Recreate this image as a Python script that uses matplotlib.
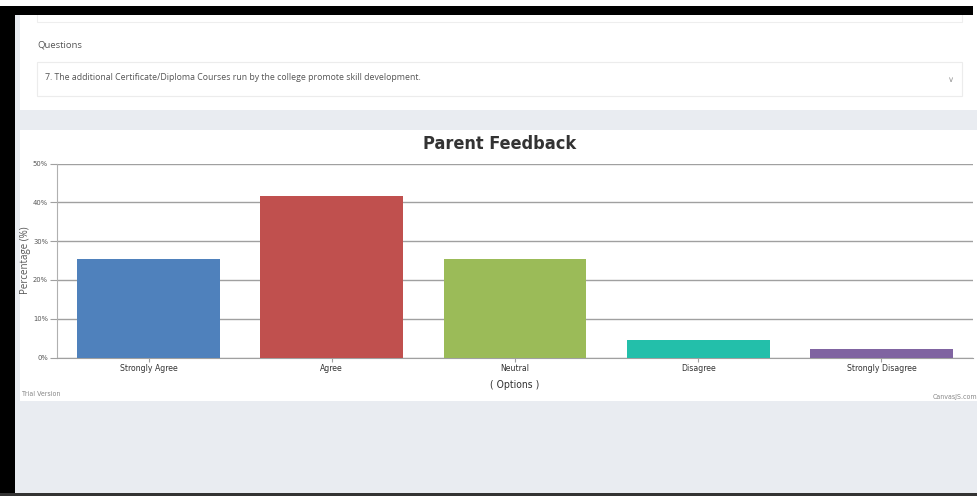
import matplotlib
matplotlib.use("Agg")
import matplotlib.pyplot as plt
from matplotlib.patches import Rectangle
from matplotlib.ticker import FuncFormatter

categories = ["Strongly Agree", "Agree", "Neutral", "Disagree", "Strongly Disagree"]
values = [25.5, 41.7, 25.5, 4.4, 2.2]
colors = ["#4F81BC", "#C0504E", "#9BBB58", "#23BFAA", "#8064A1"]
yticks = [0, 10, 20, 30, 40, 50]
title = "Parent Feedback"
question_label = "Questions"
question_text = "7. The additional Certificate/Diploma Courses run by the college promote skill development."

W, H = 978, 496
fig = plt.figure(figsize=(W / 100, H / 100), dpi=100)
fig.patch.set_facecolor("white")

NARROW = ["DejaVu Sans"]
SANS = ["Open Sans", "DejaVu Sans"]
COND = "condensed"

bg = fig.add_axes([0, 0, 1, 1])
bg.set_xlim(0, W)
bg.set_ylim(H, 0)
bg.axis("off")

def rect(x0, y0, x1, y1, fc, ec="none", lw=0, z=0):
    bg.add_patch(Rectangle((x0, y0), x1 - x0, y1 - y0, facecolor=fc, edgecolor=ec, linewidth=lw, zorder=z))

rect(15, 15, W, 493, "#E9ECF1")
rect(20, 15, W, 110, "white", z=1)
rect(37, 10, 962, 22, "white", ec="#EEEEEE", lw=0.8, z=2)
rect(37, 62, 962, 96, "white", ec="#ECECEC", lw=0.8, z=2)
rect(20, 130, W, 401, "white", z=1)
rect(0, 6, 973, 15, "black", z=5)
rect(0, 6, 15, 493, "black", z=5)
rect(0, 493, W, H, "#333333", z=5)

bg.text(37, 45, question_label, fontsize=6.8, color="#555555", family=SANS, va="center", ha="left", zorder=3)
bg.text(45, 78, question_text, fontsize=6.3, color="#555555", family=SANS, va="center", ha="left", zorder=3)
bg.text(951, 80, "\u2228", fontsize=6, color="#999999", family=SANS, va="center", ha="center", zorder=3)
bg.text(500, 144, title, fontsize=13, fontweight="heavy", fontstretch=COND, color="#333333",
        family=NARROW, va="center", ha="center", zorder=3)
bg.text(22, 394, "Trial Version", fontsize=5, fontstretch=COND, color="#888888", family=NARROW,
        va="center", ha="left", zorder=3)
bg.text(977, 397, "CanvasJS.com", fontsize=5, fontstretch=COND, color="#888888", family=NARROW,
        va="center", ha="right", zorder=3)

left, right, top, bottom = 57, 973, 163.5, 357.5
ax = fig.add_axes([left / W, 1 - bottom / H, (right - left) / W, (bottom - top) / H])
ax.set_zorder(4)
ax.patch.set_alpha(0)
x = list(range(len(categories)))
ax.bar(x, values, width=0.78, color=colors, zorder=3)
ax.set_xlim(-0.5, len(categories) - 0.5)
ax.set_ylim(0, 50)
ax.set_yticks(yticks)
ax.yaxis.set_major_formatter(FuncFormatter(lambda v, p: f"{int(v)}%"))
ax.set_xticks(x)
ax.set_xticklabels(categories)
ax.grid(axis="y", color="#A0A0A0", linewidth=1, zorder=0)
for s in ["top", "right"]:
    ax.spines[s].set_visible(False)
ax.spines["left"].set_color("#B0B0B0")
ax.spines["bottom"].set_color("#A0A0A0")
ax.tick_params(axis="y", length=5, color="#A0A0A0", labelsize=5.4, labelcolor="#555555", pad=1.5)
ax.tick_params(axis="x", length=3, color="#A0A0A0", labelsize=6.2, labelcolor="#333333", pad=2)
for lab in ax.get_xticklabels() + ax.get_yticklabels():
    lab.set_family(NARROW)
    lab.set_fontstretch(COND)
ax.set_ylabel("Percentage (%)", fontsize=7, color="#555555", family=SANS)
ax.yaxis.set_label_coords((26 - left) / (right - left), 0.5)
ax.set_xlabel("( Options )", fontsize=7.5, fontstretch=COND, color="#333333", family=NARROW)
ax.xaxis.set_label_coords(0.5, -(385 - bottom) / (bottom - top))
ax.xaxis.label.set_va("center")
ax.yaxis.label.set_va("center")

fig.savefig("out.png", dpi=100)
